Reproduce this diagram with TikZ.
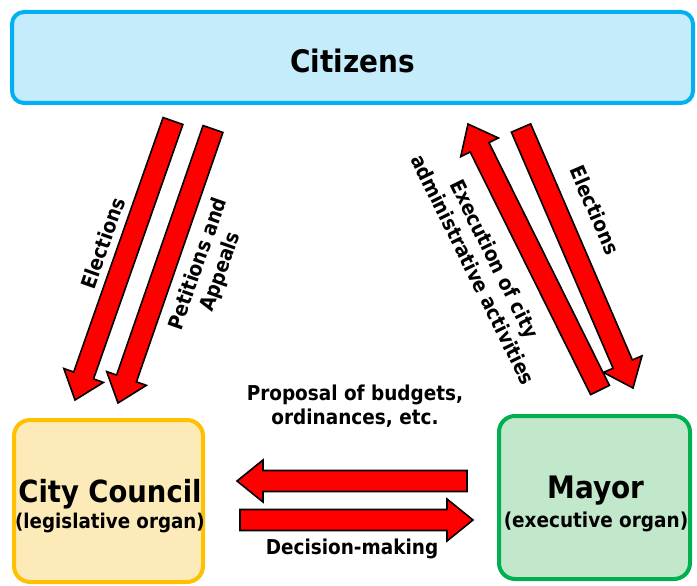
\documentclass[tikz,border=0pt]{standalone}
\usepackage{fontspec}
\setmainfont{DejaVu Sans Condensed}
\usetikzlibrary{calc}
\definecolor{citiline}{HTML}{00B0F0}
\definecolor{citifill}{HTML}{C4ECFB}
\definecolor{counline}{HTML}{FFC000}
\definecolor{counfill}{HTML}{FCEBB8}
\definecolor{mayline}{HTML}{00B050}
\definecolor{mayfill}{HTML}{C2E8CB}
% block arrow from tail #1 to tip #2
\newcommand{\blockarrow}[2]{%
  \coordinate (hb) at ($(#2)!26pt!(#1)$);
  \draw[bigarrow] ($(#1)!10.5pt!90:(#2)$) -- ($(hb)!10.5pt!90:(#2)$) -- ($(hb)!21pt!90:(#2)$) -- (#2)
    -- ($(hb)!21pt!-90:(#2)$) -- ($(hb)!10.5pt!-90:(#2)$) -- ($(#1)!10.5pt!-90:(#2)$) -- cycle;}
\begin{document}
\begin{tikzpicture}[x=1pt, y=-1pt, font=\bfseries,
    organ/.style={draw, line width=4pt, rounded corners=16pt, inner sep=0pt},
    bigarrow/.style={draw=black, fill=red, line width=1.6pt, line join=miter},
    lbl/.style={align=center, font=\bfseries\fontsize{20.5}{24}\selectfont}]
    \useasboundingbox (0,0) rectangle (697,586);
    \node [organ, draw=citiline, fill=citifill, rounded corners=12pt, minimum width=681pt, minimum height=91pt] (citizens) at (352.5,57.5) {};
    \node [organ, draw=counline, fill=counfill, minimum width=189pt, minimum height=162pt] (council) at (108.5,501) {};
    \node [organ, draw=mayline, fill=mayfill, minimum width=191pt, minimum height=163pt] (mayor) at (594.5,497.5) {};
    \node [font=\bfseries\fontsize{31}{35}\selectfont] (citizens-t) at (352.5,61) {Citizens};
    \node [font=\bfseries\fontsize{30.5}{34}\selectfont] (council-t) at (110,494) {City Council};
    \node [font=\bfseries\fontsize{20.3}{23}\selectfont] (council-s) at (110,523) {(legislative organ)};
    \node [font=\bfseries\fontsize{31}{35}\selectfont] (mayor-t) at (596,491) {Mayor};
    \node [font=\bfseries\fontsize{20.5}{23}\selectfont] (mayor-s) at (596,522) {(executive organ)};
    % arrow ends
    \coordinate (elecL-s) at (173,121);
    \coordinate (elecL-e) at (75,400);
    \coordinate (peti-s) at (213,129);
    \coordinate (peti-e) at (118,403);
    \coordinate (exec-s) at (600,390);
    \coordinate (exec-e) at (468,124);
    \coordinate (elecR-s) at (521,128);
    \coordinate (elecR-e) at (633,388);
    \coordinate (prop-s) at (467,481);
    \coordinate (prop-e) at (237,481);
    \coordinate (deci-s) at (240,520);
    \coordinate (deci-e) at (473,520);
    \blockarrow{elecL-s}{elecL-e}
    \blockarrow{peti-s}{peti-e}
    \blockarrow{exec-s}{exec-e}
    \blockarrow{elecR-s}{elecR-e}
    \blockarrow{prop-s}{prop-e}
    \blockarrow{deci-s}{deci-e}
    % labels
    \node [lbl, rotate=70.6] (elecL) at (103,243) {Elections};
    \node [lbl, rotate=70.6] (peti) at (210,268) {Petitions and\\Appeals};
    \node [lbl, rotate=-63.7] (exec) at (484,264) {Execution of city\\administrative activities};
    \node [lbl, rotate=-66.8] (elecR) at (595,210) {Elections};
    \node [lbl] (prop) at (355,406) {Proposal of budgets,\\ordinances, etc.};
    \node [lbl] (deci) at (352,549) {Decision-making};
\end{tikzpicture}
\end{document}
